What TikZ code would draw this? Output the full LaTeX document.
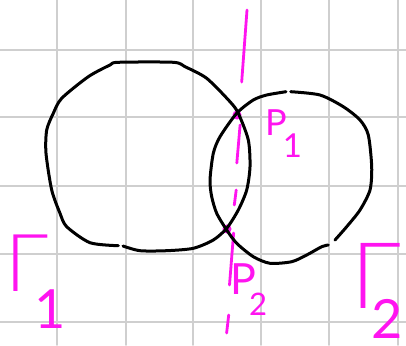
\documentclass[tikz,border=0pt]{standalone}
\usepackage{fontspec}
\setmainfont{Liberation Sans}
\newfontfamily\handfont{Lato Light}
\newfontfamily\handbold{Lato}
\usepackage{xcolor}
\usepackage{tikz}
\definecolor{pen}{HTML}{FF14F0}
\definecolor{gridgray}{HTML}{CFCFCF}

\begin{document}
\begin{tikzpicture}[x=1pt, y=-1pt, line cap=round, line join=round]
    \tikzstyle{gridline} = [draw=gridgray, line width=1.6pt]
    \tikzstyle{sketch} = [draw=black, line width=3pt]
    \tikzstyle{guide} = [draw=pen, line width=2.8pt]
    \tikzstyle{crossing} = [circle, fill=pen, inner sep=0pt, minimum size=9pt]
    \tikzstyle{handtext} = [text=pen, inner sep=0pt, anchor=north west]

    \useasboundingbox (0,0) rectangle (406,345);
    \fill [white] (0,0) rectangle (406,345);

    % squared paper
    \foreach \gx in {57,126,193,261,329,398}
        \draw [gridline] (\gx,0) -- (\gx,345);
    \foreach \gy in {50,117,186,254,322}
        \draw [gridline] (0,\gy) -- (406,\gy);

    % common chord, drawn in pieces
    \foreach \ya/\yb in {10/82, 125/163, 190/205, 233/285, 315/333}
        \draw [guide] ({247-0.06*(\ya-10)},\ya) -- ({247-0.06*(\yb-10)-1},\yb);

    % intersection points
    \node [crossing] (p1) at (237,115) {};
    \node [crossing] (p2) at (227,229) {};

    % Gamma 1
    \draw [sketch] plot [smooth, tension=0.45] coordinates {
        (123,246) (140,250.7) (166.7,250.7) (193.3,248.3) (213.3,240)
        (226.7,228.3) (238.3,210) (246.7,190) (250,166.7) (248.3,140)
        (238.3,113.3) (230,101.7) (206.7,78.3) (185,66.7) (173.3,62.3)
        (118.3,62.3) (110,65) (88.3,76.7) (61.7,98.3) (53.3,113.3)
        (46.7,130) (46,153.3) (51.7,190) (60,213.3) (66.7,226.7)
        (90,242.7) (118.3,245.7)};

    % Gamma 2
    \draw [sketch] plot [smooth, tension=0.45] coordinates {
        (290.7,91.7) (320,95) (343.3,106.7) (360,120) (368.3,135)
        (371.7,166.7) (370,190) (360,210) (346.7,226.7) (335,240)};
    \draw [sketch] plot [smooth, tension=0.45] coordinates {
        (328.3,245) (321.7,246.7) (306.7,255) (291.7,261.7) (270,263.3)
        (253.3,256.7) (236.7,243.3) (226.7,230) (216.7,213.3) (211.7,196.7)
        (210,180) (213.3,153.3) (220,136.7) (236.7,113.3) (253.3,100)
        (266.7,95) (286,91.7)};

    % labels
    \node [handtext, font=\handbold\fontsize{36}{36}\selectfont] (lp1) at (265,110)
        {P\hspace{-4pt}\raisebox{-22pt}{\fontsize{33}{33}\selectfont 1}};
    \node [handtext, font=\handbold\fontsize{43}{43}\selectfont] (lp2) at (230,263)
        {P\hspace{-7pt}\raisebox{-21pt}{\fontsize{31}{31}\selectfont 2}};
    \node [handtext, font=\handfont\fontsize{80}{80}\selectfont] (lg1) at (5,235)
        {Γ\hspace{-14pt}\raisebox{-37pt}{\handbold\fontsize{54}{54}\selectfont 1}};
    \node [handtext, font=\handfont\fontsize{92}{92}\selectfont] (lg2) at (351,243)
        {Γ\hspace{-30pt}\raisebox{-30pt}{\handbold\fontsize{54}{54}\selectfont 2}};
\end{tikzpicture}
\end{document}
